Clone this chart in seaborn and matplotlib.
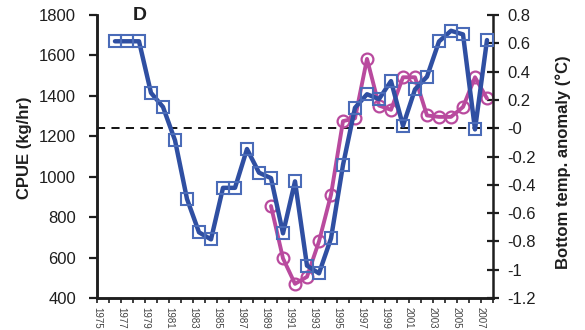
import numpy as np
import pandas as pd
import matplotlib
matplotlib.use("Agg")
import matplotlib.pyplot as plt
from matplotlib.ticker import MultipleLocator, FuncFormatter
import seaborn as sns

# CPUE series (left axis), one value per year
cpue_years = list(range(1976, 2008))
cpue = [1670, 1670, 1670, 1415, 1345, 1180, 890, 725, 690, 945,
        945, 1137, 1020, 993, 720, 977, 560, 522, 695, 1058,
        1341, 1408, 1384, 1473, 1252, 1432, 1495, 1669, 1722, 1704,
        1234, 1676]

# Bottom temperature anomaly series (right axis)
temp_years = list(range(1989, 2008))
temp_anom = [-0.55, -0.92, -1.10, -1.05, -0.80, -0.47, 0.05, 0.07, 0.49, 0.16,
             0.13, 0.36, 0.36, 0.09, 0.08, 0.08, 0.15, 0.36, 0.21]

label_years = list(range(1975, 2008, 2))

cpue_df = pd.DataFrame({"year": np.array(cpue_years) + 0.5, "cpue": cpue})
temp_df = pd.DataFrame({"year": np.array(temp_years) + 0.5, "temp": temp_anom})

sns.set_style("ticks")
plt.rcParams["font.family"] = ["Liberation Sans", "DejaVu Sans"]

blue = "#2F4FA2"
blue_edge = "#4A6BB8"
magenta = "#B94A9E"
dark = "#1e1e1e"

fig = plt.figure(figsize=(5.85, 3.30), dpi=100)
ax = fig.add_axes([97 / 585, 32 / 330, 396 / 585, 283 / 330])
ax2 = ax.twinx()

# temperature anomaly (right axis)
sns.lineplot(data=temp_df, x="year", y="temp", ax=ax2, color=magenta, lw=2.8,
             marker="o", markersize=8.5, markerfacecolor="none",
             markeredgecolor=magenta, markeredgewidth=1.6)
ax2.axhline(0, color="black", lw=1.3, ls=(0, (4.5, 3.5)), zorder=1)

# CPUE (left axis), drawn above the temperature series
sns.lineplot(data=cpue_df, x="year", y="cpue", ax=ax, color=blue, lw=3.2,
             marker="s", markersize=8.5, markerfacecolor="none",
             markeredgecolor=blue_edge, markeredgewidth=1.5)
ax.set_zorder(ax2.get_zorder() + 1)
ax.patch.set_visible(False)

ax.set_xlim(1975, 2008)
ax.set_ylim(400, 1800)
ax2.set_ylim(-1.2, 0.8)

ax.set_yticks(range(400, 1801, 200))
ax2.set_yticks(np.round(np.arange(-1.2, 0.81, 0.2), 1))
ax2.yaxis.set_major_formatter(FuncFormatter(lambda v, p: f"{v:g}"))

ax.set_xticks(label_years)
ax.set_xticklabels([str(y) for y in label_years], rotation=270, fontsize=7,
                   color="#444444")
ax.xaxis.set_minor_locator(MultipleLocator(1))

for sp in ["top"]:
    ax.spines[sp].set_visible(False)
    ax2.spines[sp].set_visible(False)
for a in (ax, ax2):
    for sp in a.spines.values():
        sp.set_color(dark)
        sp.set_linewidth(1.8)
ax.spines["right"].set_visible(False)

ax.tick_params(axis="y", direction="out", length=6, width=1.6, color=dark,
               labelsize=12, labelcolor=dark, pad=9)
ax.tick_params(axis="x", which="both", direction="out", length=3.5, width=1.2,
               color=dark, pad=3)
ax2.tick_params(axis="y", direction="inout", length=9, width=1.6, color=dark,
                labelsize=12, labelcolor=dark, pad=6)

ax.set_xlabel("")
ax.set_ylabel("CPUE (kg/hr)", fontsize=12, fontweight="bold", color=dark)
ax2.set_ylabel("Bottom temp. anomaly (°C)", fontsize=12, fontweight="bold",
               color=dark)
ax.yaxis.set_label_coords(-0.165, 0.53)
ax2.yaxis.set_label_coords(1.158, 0.48)

ax.text(0.108, 1.0, "D", transform=ax.transAxes, fontsize=14,
        fontweight="bold", color=dark, ha="center", va="center")

fig.savefig("out.png", dpi=100)
